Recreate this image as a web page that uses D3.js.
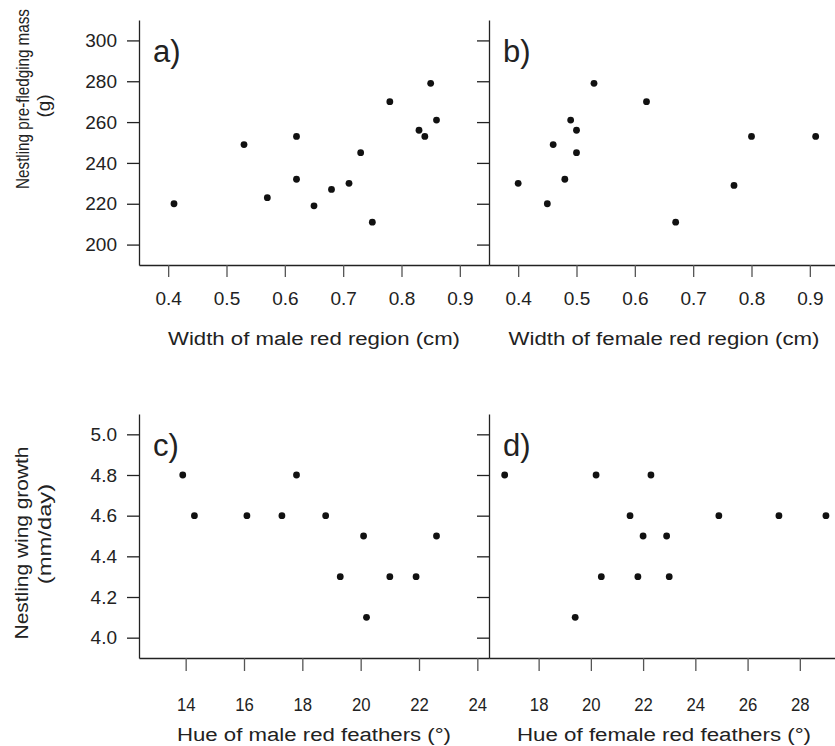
<!DOCTYPE html>
<html>
<head>
<meta charset="utf-8">
<script src="https://cdn.jsdelivr.net/npm/d3@7"></script>
<style>
  body { margin: 0; background: #fff; }
  svg { display: block; font-family: "Liberation Sans", Arial, sans-serif; }
  .tick line, .domain { stroke: #222; stroke-width: 1.3; }
  .tick text { fill: #222; }
</style>
</head>
<body>
<div id="chart"></div>
<script>
//data
const maleWidth   = [0.41, 0.53, 0.62, 0.57, 0.62, 0.65, 0.68, 0.71, 0.73, 0.75, 0.78, 0.83, 0.84, 0.85, 0.86];
const massByMale  = [220, 249, 253, 223, 232, 219, 227, 230, 245, 211, 270, 256, 253, 279, 261];

const femaleWidth  = [0.40, 0.45, 0.46, 0.48, 0.49, 0.50, 0.50, 0.53, 0.62, 0.67, 0.77, 0.80, 0.91];
const massByFemale = [230, 220, 249, 232, 261, 256, 245, 279, 270, 211, 229, 253, 253];

const maleHue    = [13.9, 14.3, 16.1, 17.3, 17.8, 18.8, 20.1, 19.3, 21.0, 21.9, 20.2, 22.6];
const wingByMale = [4.8, 4.6, 4.6, 4.6, 4.8, 4.6, 4.5, 4.3, 4.3, 4.3, 4.1, 4.5];

const femaleHue    = [16.7, 20.2, 22.3, 21.5, 24.9, 27.2, 29.0, 22.0, 22.9, 20.4, 21.8, 23.0, 19.4];
const wingByFemale = [4.8, 4.8, 4.8, 4.6, 4.6, 4.6, 4.6, 4.5, 4.5, 4.3, 4.3, 4.3, 4.1];

const massTicks = [200, 220, 240, 260, 280, 300];
const wingTicks = [4.0, 4.2, 4.4, 4.6, 4.8, 5.0];
const widthTicks = [0.4, 0.5, 0.6, 0.7, 0.8, 0.9];
const maleHueTicks = [14, 16, 18, 20, 22, 24];
const femaleHueTicks = [18, 20, 22, 24, 26, 28];

const width = 835, height = 746;
const colLeft = [139, 489], colW = 350;

const svg = d3.select('#chart').append('svg')
  .attr('width', width)
  .attr('height', height);

//one panel = scatter with left + bottom axis
function drawPanel(opt) {
  var x = d3.scaleLinear().domain(opt.xDomain).range([opt.left, opt.left + colW]);
  var y = d3.scaleLinear().domain(opt.yDomain).range([opt.bottom, opt.top]);
  var g = svg.append('g').attr('class', 'panel');

  var yAxis = d3.axisLeft(y)
    .tickValues(opt.yTicks)
    .tickSize(12)
    .tickSizeOuter(0)
    .tickPadding(10)
    .tickFormat(opt.showY ? opt.yFormat : '');
  g.append('g')
    .attr('transform', 'translate(' + opt.left + ',0)')
    .call(yAxis)
    .selectAll('text')
    .style('font-size', '19px');

  var xAxis = d3.axisBottom(x)
    .tickValues(opt.xTicks)
    .tickSize(opt.xTickSize)
    .tickSizeOuter(0)
    .tickPadding(opt.xPad)
    .tickFormat(opt.xFormat);
  var xg = g.append('g')
    .attr('transform', 'translate(0,' + opt.bottom + ')')
    .call(xAxis);
  xg.selectAll('text')
    .style('font-size', '19px')
    .attr('transform', 'scale(' + opt.xLabelScale + ',1)');
  xg.selectAll('.tick line').style('stroke', '#555');

  g.selectAll('circle')
    .data(opt.xs)
    .enter().append('circle')
    .attr('cx', function(d) { return x(d); })
    .attr('cy', function(d, i) { return y(opt.ys[i]); })
    .attr('r', 3.4)
    .attr('fill', '#111');

  //panel letter
  g.append('text')
    .attr('x', opt.left + 14)
    .attr('y', opt.top + 41.5)
    .style('font-size', '31px')
    .attr('fill', '#222')
    .text(opt.label);

  //x title
  g.append('text')
    .attr('x', opt.left + colW / 2)
    .attr('y', opt.titleY)
    .attr('text-anchor', 'middle')
    .attr('textLength', opt.titleLen)
    .attr('lengthAdjust', 'spacingAndGlyphs')
    .style('font-size', '18px')
    .attr('fill', '#222')
    .text(opt.xTitle);
}

var f0 = d3.format('.0f'), f1 = d3.format('.1f');

drawPanel({ left: colLeft[0], top: 20, bottom: 265, xDomain: [0.35, 0.95], yDomain: [190, 310],
  xs: maleWidth, ys: massByMale, xTicks: widthTicks, yTicks: massTicks, showY: true,
  yFormat: f0, xFormat: f1, xTickSize: 12, xPad: 15, xLabelScale: 1, label: 'a)',
  xTitle: 'Width of male red region (cm)', titleY: 345, titleLen: 292 });

drawPanel({ left: colLeft[1], top: 20, bottom: 265, xDomain: [0.35, 0.95], yDomain: [190, 310],
  xs: femaleWidth, ys: massByFemale, xTicks: widthTicks, yTicks: massTicks, showY: false,
  yFormat: f0, xFormat: f1, xTickSize: 12, xPad: 15, xLabelScale: 1, label: 'b)',
  xTitle: 'Width of female red region (cm)', titleY: 345, titleLen: 311 });

drawPanel({ left: colLeft[0], top: 414, bottom: 658, xDomain: [12.4, 24.4], yDomain: [3.9, 5.1],
  xs: maleHue, ys: wingByMale, xTicks: maleHueTicks, yTicks: wingTicks, showY: true,
  yFormat: f1, xFormat: f0, xTickSize: 13, xPad: 27, xLabelScale: 0.88, label: 'c)',
  xTitle: 'Hue of male red feathers (°)', titleY: 741, titleLen: 274 });

drawPanel({ left: colLeft[1], top: 414, bottom: 658, xDomain: [16.1, 29.5], yDomain: [3.9, 5.1],
  xs: femaleHue, ys: wingByFemale, xTicks: femaleHueTicks, yTicks: wingTicks, showY: false,
  yFormat: f1, xFormat: f0, xTickSize: 13, xPad: 27, xLabelScale: 0.88, label: 'd)',
  xTitle: 'Hue of female red feathers (°)', titleY: 741, titleLen: 294 });

//y titles (rotated, two lines); sx squeezes/stretches along the text
function yTitle(text, bx, cy, sx) {
  svg.append('text')
    .attr('transform', 'translate(' + bx + ',' + cy + ') rotate(-90) scale(' + sx + ',1)')
    .attr('text-anchor', 'middle')
    .style('font-size', '19px')
    .attr('fill', '#222')
    .text(text);
}
yTitle('Nestling pre-fledging mass', 29, 99, 0.8);
yTitle('(g)', 50, 106, 1);
yTitle('Nestling wing growth', 28, 543, 1.1);
yTitle('(mm/day)', 51, 534, 1.25);
</script>
</body>
</html>
